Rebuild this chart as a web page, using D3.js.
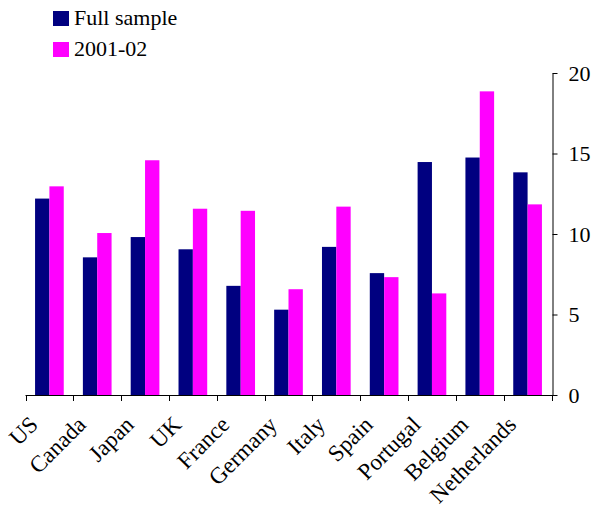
<!DOCTYPE html>
<html>
<head>
<meta charset="utf-8">
<script src="https://cdn.jsdelivr.net/npm/d3@7/dist/d3.min.js"></script>
<style>
  body { margin: 0; background: #fff; }
  text { font-family: "Liberation Serif", "Times New Roman", serif; }
</style>
</head>
<body>
<div id="chart"></div>
<script>
var countries = ['US', 'Canada', 'Japan', 'UK', 'France', 'Germany', 'Italy', 'Spain', 'Portugal', 'Belgium', 'Netherlands'];
var fullSample = [12.2, 8.55, 9.81, 9.05, 6.78, 5.3, 9.2, 7.57, 14.47, 14.75, 13.83];
var recent = [12.96, 10.06, 14.58, 11.57, 11.44, 6.57, 11.7, 7.32, 6.31, 18.86, 11.84];
var seriesNames = ['Full sample', '2001-02'];
var colors = ['#000080', '#FF00FF'];
var yTicks = [0, 5, 10, 15, 20];

var svg = d3.select('#chart')
    .append('svg')
        .attr('width', 592)
        .attr('height', 507);

var x = d3.scaleBand()
    .domain(countries)
    .range([25.5, 551.5])
    .padding(0);

var bw = x.bandwidth();
var xs = d3.scaleBand()
    .domain(seriesNames)
    .range([bw * 0.2, bw * 0.8]);

var y = d3.scaleLinear()
    .domain([0, 20])
    .range([395, 73]);

var rows = countries.map((c, i) => ({country: c, values: [fullSample[i], recent[i]]}));

var groups = svg.selectAll('g.cat')
    .data(rows)
    .enter().append('g')
        .attr('class', 'cat')
        .attr('transform', d => 'translate(' + x(d.country) + ',0)');

groups.selectAll('rect')
    .data(d => d.values.map((v, j) => ({name: seriesNames[j], value: v, j: j})))
    .enter().append('rect')
        .attr('x', d => xs(d.name))
        .attr('width', xs.bandwidth())
        .attr('y', d => y(d.value))
        .attr('height', d => y(0) - y(d.value))
        .attr('fill', d => colors[d.j]);

// x axis: line plus ticks at category boundaries
var xAxis = svg.append('g');
xAxis.append('line')
    .attr('x1', 25.5).attr('x2', 552)
    .attr('y1', 395.5).attr('y2', 395.5)
    .attr('stroke', '#000');
var bounds = countries.map(c => x(c)).concat([x.range()[1]]);
xAxis.selectAll('line.tick')
    .data(bounds)
    .enter().append('line')
        .attr('class', 'tick')
        .attr('x1', d => Math.round(d) + 0.5).attr('x2', d => Math.round(d) + 0.5)
        .attr('y1', 395).attr('y2', 401)
        .attr('stroke', '#000');

xAxis.selectAll('text')
    .data(countries)
    .enter().append('text')
        .attr('text-anchor', 'end')
        .attr('font-size', 23)
        .attr('transform', d => 'translate(' + (x(d) + bw / 2 - 10) + ',426) rotate(-45)')
        .text(d => d);

// y axis on the right
var yAxis = svg.append('g')
    .attr('transform', 'translate(552.5,0)')
    .call(d3.axisRight(y).tickValues(yTicks).tickSize(5).tickPadding(11).tickSizeOuter(0));
yAxis.select('.domain').attr('stroke', '#000');
yAxis.selectAll('.tick line').attr('stroke', '#000');
yAxis.selectAll('.tick text')
    .attr('font-family', '"Liberation Serif", "Times New Roman", serif')
    .attr('font-size', 22)
    .attr('fill', '#000');

// legend
var legend = svg.append('g');
seriesNames.forEach((name, i) => {
    legend.append('rect')
        .attr('x', 53).attr('y', 11 + i * 31)
        .attr('width', 16).attr('height', 15)
        .attr('fill', colors[i]);
    legend.append('text')
        .attr('x', 74).attr('y', 25 + i * 31)
        .attr('font-size', 22)
        .text(name);
});
</script>
</body>
</html>
